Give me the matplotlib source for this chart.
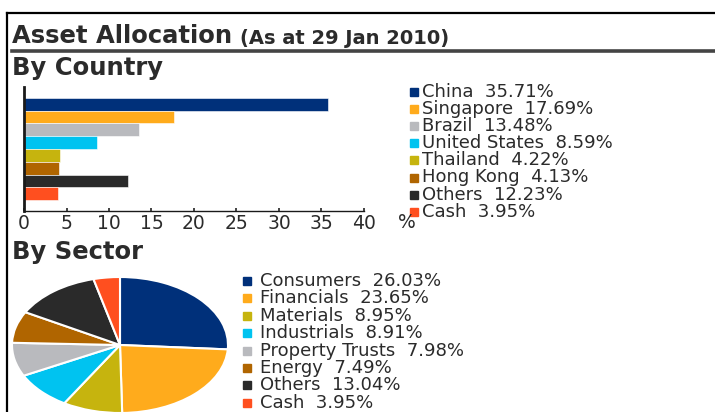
import matplotlib
matplotlib.use("Agg")
import matplotlib.pyplot as plt
from matplotlib.lines import Line2D
from matplotlib.patches import Rectangle

# data
countries = ["China", "Singapore", "Brazil", "United States", "Thailand",
             "Hong Kong", "Others", "Cash"]
country_pct = [35.71, 17.69, 13.48, 8.59, 4.22, 4.13, 12.23, 3.95]
country_colors = ["#00307a", "#ffab1c", "#b9babe", "#00c3f0", "#c6b40e",
                  "#b06500", "#2a2a2a", "#ff4f1f"]

sectors = ["Consumers", "Financials", "Materials", "Industrials",
           "Property Trusts", "Energy", "Others", "Cash"]
sector_pct = [26.03, 23.65, 8.95, 8.91, 7.98, 7.49, 13.04, 3.95]
sector_colors = ["#00307a", "#ffab1c", "#c6b40e", "#00c3f0", "#b9babe",
                 "#b06500", "#2a2a2a", "#ff4f1f"]

x_ticks = [0, 5, 10, 15, 20, 25, 30, 35, 40]

W, H = 715, 412
TXT = "#2b2b2b"
LEG_FS = 13
plt.rcParams["font.family"] = ["DejaVu Sans"]


def fx(px):
    return px / W


def fy(py):
    # pixel row measured from the top -> figure fraction from the bottom
    return 1 - py / H


def add_axes_px(left, top, right, bottom):
    return fig.add_axes([fx(left), fy(bottom), fx(right - left), (bottom - top) / H])


fig = plt.figure(figsize=(W / 100, H / 100), dpi=100)
fig.patch.set_facecolor("white")

# frame and title rule
fig.add_artist(Line2D([fx(7), 1], [fy(13), fy(13)], color="black", lw=1.6))
fig.add_artist(Line2D([fx(7), fx(7)], [fy(13), 0], color="black", lw=1.6))
fig.add_artist(Line2D([fx(12), 1], [fy(50.5), fy(50.5)], color="#444444", lw=2.6))

title = fig.text(fx(12), fy(36), "Asset Allocation", fontsize=17.5, fontweight="bold",
                 color=TXT, va="center", ha="left")
fig.canvas.draw()
bb = title.get_window_extent()
fig.text((bb.x1 + 8) / W, fy(38), "(As at 29 Jan 2010)", fontsize=14,
         fontweight="bold", color=TXT, va="center", ha="left")

fig.text(fx(12), fy(68), "By Country", fontsize=17.5, fontweight="bold",
         color=TXT, va="center", ha="left")
fig.text(fx(12), fy(252), "By Sector", fontsize=17.5, fontweight="bold",
         color=TXT, va="center", ha="left")

# bar chart by country
ax = add_axes_px(24, 87, 364, 211)
ypos = list(range(len(countries) - 1, -1, -1))
ax.barh(ypos, country_pct, height=1.0, color=country_colors, edgecolor="white",
        linewidth=0.4)
ax.set_xlim(0, 40)
ax.set_ylim(-1.36, 8.36)
ax.set_xticks(x_ticks)
ax.set_xticklabels([str(t) for t in x_ticks], fontsize=LEG_FS + 0.5, color=TXT)
ax.set_yticks([])
ax.tick_params(axis="x", direction="in", length=2.5, width=1.2, pad=2, color="#222222")
for s in ["top", "right"]:
    ax.spines[s].set_visible(False)
ax.spines["left"].set_linewidth(2.0)
ax.spines["left"].set_color("#1a1a1a")
ax.spines["bottom"].set_linewidth(1.0)
ax.spines["bottom"].set_color("#1a1a1a")
fig.text(fx(407), fy(223), "%", fontsize=LEG_FS + 0.5, color=TXT, va="center", ha="center")

# country legend
for i, (name, pct, c) in enumerate(zip(countries, country_pct, country_colors)):
    yc = 92 + i * 17.1
    fig.add_artist(Rectangle((fx(410), fy(yc + 4)), fx(8), 8 / H, color=c))
    fig.text(fx(422), fy(yc), f"{name}  {pct:.2f}%", fontsize=LEG_FS, color=TXT,
             va="center", ha="left")

# pie chart by sector (stretched into an ellipse like the original)
pax = add_axes_px(12, 277, 228, 413)
pax.pie(sector_pct, colors=sector_colors, startangle=90, counterclock=False,
        wedgeprops=dict(edgecolor="white", linewidth=1.5))
pax.set_aspect("auto")
pax.set_xlim(-1.0, 1.0)
pax.set_ylim(-1.0, 1.0)

# sector legend
for i, (name, pct, c) in enumerate(zip(sectors, sector_pct, sector_colors)):
    yc = 281 + i * 17.4
    fig.add_artist(Rectangle((fx(243), fy(yc + 4)), fx(8), 8 / H, color=c))
    fig.text(fx(260), fy(yc), f"{name}  {pct:.2f}%", fontsize=LEG_FS, color=TXT,
             va="center", ha="left")

fig.savefig("out.png", dpi=100)
